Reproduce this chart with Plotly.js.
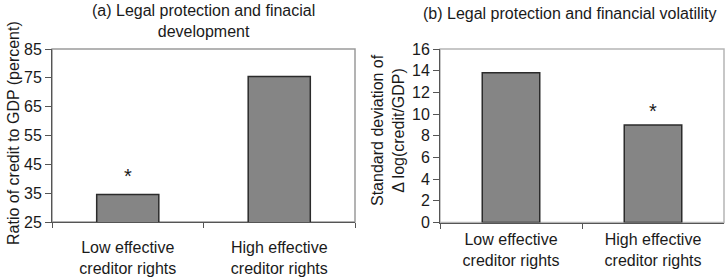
<!DOCTYPE html>
<html>
<head>
<meta charset="utf-8">
<script src="https://cdn.plot.ly/plotly-3.0.1.min.js"></script>
<style>html,body{margin:0;padding:0;background:#fff;}#chart{width:726px;height:277px;}</style>
</head>
<body>
<div id="chart"></div>
<script>
const categories = ['Low effective<br>creditor rights', 'High effective<br>creditor rights'];
const creditToGDP = [34.5, 75.5];
const creditVolatility = [13.8, 9.0];
const starsA = [true, false];
const starsB = [false, true];
const yTicksA = [25, 35, 45, 55, 65, 75, 85];
const yTicksB = [0, 2, 4, 6, 8, 10, 12, 14, 16];

const W = 726, H = 277;
const px = v => v / W;
const py = v => (H - v) / H;
const FONT = 'Liberation Sans, Arial, sans-serif';
const TXT = '#1a1a1a';

const barStyle = {color: '#858585', line: {color: '#2b2b2b', width: 1.5}};

const traces = [
  {type: 'bar', x: categories, y: creditToGDP, xaxis: 'x', yaxis: 'y', width: 0.41, marker: barStyle, hoverinfo: 'none'},
  {type: 'bar', x: categories, y: creditVolatility, xaxis: 'x2', yaxis: 'y2', width: 0.405, marker: barStyle, hoverinfo: 'none'}
];

const annotations = [];
starsA.forEach((s, i) => { if (s) annotations.push({xref: 'x', yref: 'y', x: categories[i], y: creditToGDP[i], text: '*', showarrow: false, yanchor: 'bottom', yshift: 6, font: {family: FONT, size: 20, color: TXT}}); });
starsB.forEach((s, i) => { if (s) annotations.push({xref: 'x2', yref: 'y2', x: categories[i], y: creditVolatility[i], text: '*', showarrow: false, yanchor: 'bottom', yshift: 1, font: {family: FONT, size: 20, color: TXT}}); });

annotations.push(
  {xref: 'paper', yref: 'paper', x: px(203), y: py(20.5), text: '(a) Legal protection and finacial<br>development', showarrow: false, xanchor: 'center', yanchor: 'middle', font: {family: FONT, size: 16, color: TXT}},
  {xref: 'paper', yref: 'paper', x: px(570), y: py(13), text: '(b) Legal protection and financial volatility', showarrow: false, xanchor: 'center', yanchor: 'middle', font: {family: FONT, size: 16, color: TXT}},
  {xref: 'paper', yref: 'paper', x: px(13), y: py(133), text: 'Ratio of credit to GDP (percent)', textangle: -90, showarrow: false, xanchor: 'center', yanchor: 'middle', font: {family: FONT, size: 16, color: TXT}},
  {xref: 'paper', yref: 'paper', x: px(388), y: py(130), text: 'Standard deviation of<br>Δ log(credit/GDP)', textangle: -90, showarrow: false, xanchor: 'center', yanchor: 'middle', font: {family: FONT, size: 16, color: TXT}}
);

const tickFont = {family: FONT, size: 16, color: TXT};
const layout = {
  width: W, height: H,
  margin: {l: 0, r: 0, t: 0, b: 0},
  paper_bgcolor: '#fff', plot_bgcolor: '#fff',
  showlegend: false,
  xaxis: {domain: [px(52), px(355)], anchor: 'y', type: 'category', tickson: 'boundaries', ticks: 'outside', ticklen: 5, tickcolor: '#555', showline: true, linecolor: '#555', linewidth: 1, tickfont: tickFont, ticklabelstandoff: 11, showgrid: false, zeroline: false, fixedrange: true},
  yaxis: {domain: [py(222), py(49)], anchor: 'x', range: [25, 85], tickvals: yTicksA, ticks: 'outside', ticklen: 6, tickcolor: '#555', showline: true, linecolor: '#555', linewidth: 1, tickfont: tickFont, showgrid: false, zeroline: false, fixedrange: true},
  xaxis2: {domain: [px(440), px(724)], anchor: 'y2', type: 'category', tickson: 'boundaries', ticks: 'outside', ticklen: 5, tickcolor: '#555', showline: true, linecolor: '#555', linewidth: 1, tickfont: tickFont, ticklabelstandoff: 2, showgrid: false, zeroline: false, fixedrange: true},
  yaxis2: {domain: [py(222.5), py(49)], anchor: 'x2', range: [0, 16], tickvals: yTicksB, ticks: 'outside', ticklen: 6, tickcolor: '#555', showline: true, linecolor: '#555', linewidth: 1, tickfont: tickFont, showgrid: false, zeroline: false, fixedrange: true},
  shapes: [
    {type: 'rect', xref: 'x domain', yref: 'y domain', x0: 0, x1: 1, y0: 0, y1: 1, line: {color: '#9a9a9a', width: 1.5}, layer: 'below'},
    {type: 'rect', xref: 'x2 domain', yref: 'y2 domain', x0: 0, x1: 1, y0: 0, y1: 1, line: {color: '#b5b5b5', width: 1.5}, layer: 'below'}
  ],
  annotations: annotations
};

Plotly.newPlot('chart', traces, layout, {displayModeBar: false, staticPlot: true});
</script>
</body>
</html>
